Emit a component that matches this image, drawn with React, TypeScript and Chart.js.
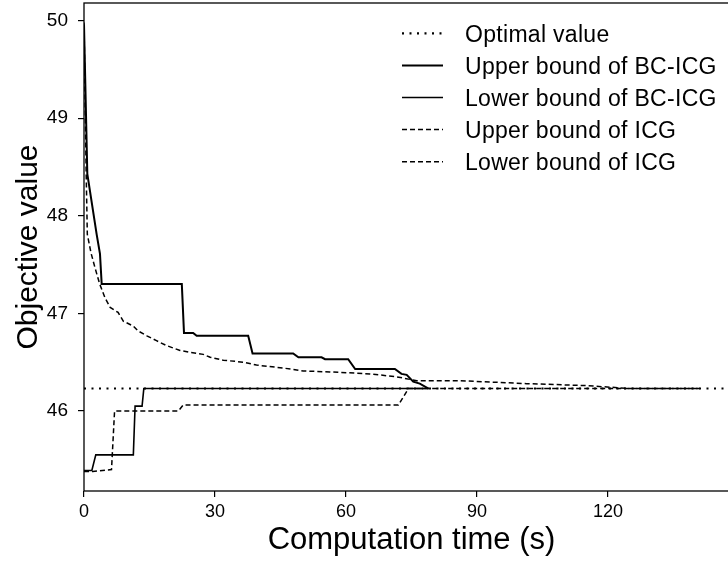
import React, { useEffect, useRef } from "react";
import { Chart, registerables } from "chart.js";

Chart.register(...registerables);

// ---- data (time in s, objective value) ----
const seriesNames = [
  "Optimal value",
  "Upper bound of BC-ICG",
  "Lower bound of BC-ICG",
  "Upper bound of ICG",
  "Lower bound of ICG",
];

const optimalTimes = [0, 150];
const optimalValues = [46.23, 46.23];

const bcUpperTimes = [0, 0.76, 2.9, 3.66, 4.05, 22.4, 22.9, 25.0, 25.8, 37.6, 38.6, 47.9, 49.1, 54.4, 55.2, 60.5, 62.1, 71.2, 72.7, 73.9, 75.4, 76.9, 78.9];
const bcUpperValues = [49.96, 48.43, 47.81, 47.61, 47.30, 47.30, 46.80, 46.80, 46.77, 46.77, 46.59, 46.59, 46.55, 46.55, 46.53, 46.53, 46.43, 46.43, 46.38, 46.37, 46.30, 46.28, 46.23];

const bcLowerTimes = [0, 1.8, 2.7, 11.3, 11.7, 13.3, 13.7, 78.9];
const bcLowerValues = [45.39, 45.39, 45.55, 45.55, 46.05, 46.05, 46.23, 46.23];

const icgUpperTimes = [0, 0.5, 0.76, 1.6, 2.5, 3.6, 4.8, 6.0, 7.8, 9.0, 11.3, 12.4, 14.4, 16.6, 18.9, 22.0, 24.3, 27.3, 28.9, 31.9, 36.5, 39.5, 45.6, 48.7, 50.2, 56.3, 65.5, 71.6, 76.2, 86.1, 101.4, 115, 125, 141];
const icgUpperValues = [49.98, 48.43, 47.81, 47.62, 47.47, 47.30, 47.16, 47.06, 47.01, 46.92, 46.87, 46.82, 46.77, 46.72, 46.67, 46.62, 46.60, 46.58, 46.55, 46.52, 46.50, 46.47, 46.44, 46.42, 46.41, 46.40, 46.38, 46.35, 46.31, 46.31, 46.28, 46.26, 46.23, 46.23];

const icgLowerTimes = [0, 2.0, 6.3, 7.0, 21.6, 22.7, 72.0, 74.3, 141];
const icgLowerValues = [45.38, 45.38, 45.40, 46.0, 46.0, 46.06, 46.06, 46.23, 46.23];

const xTickValues = [0, 30, 60, 90, 120, 150];
const yTickValues = [46, 47, 48, 49, 50];

const FONT = "'Liberation Sans', Arial, Helvetica, sans-serif";

function pts(xs: number[], ys: number[]) {
  return xs.map((x, i) => ({ x, y: ys[i] }));
}

const boxAndLegend = {
  id: "boxAndLegend",
  afterDraw(chart: any) {
    const { ctx, chartArea } = chart;
    ctx.save();
    ctx.strokeStyle = "#000";
    ctx.lineWidth = 1.3;
    ctx.setLineDash([]);
    ctx.strokeRect(chartArea.left, chartArea.top, chartArea.right - chartArea.left, chartArea.bottom - chartArea.top);

    const x0 = 402;
    const x1 = 443;
    const tx = 465;
    const rowY0 = 33.3;
    const rowStep = 32.1;
    ctx.font = `23px ${FONT}`;
    ctx.textBaseline = "alphabetic";
    ctx.textAlign = "left";
    try { (ctx as any).letterSpacing = "0.3px"; } catch (e) {}
    chart.data.datasets.forEach((ds: any, i: number) => {
      const y = rowY0 + rowStep * i;
      ctx.beginPath();
      ctx.strokeStyle = ds.borderColor;
      ctx.lineWidth = ds.borderWidth;
      ctx.setLineDash(ds.borderDash || []);
      ctx.moveTo(x0, y);
      ctx.lineTo(x1, y);
      ctx.stroke();
      ctx.setLineDash([]);
      ctx.fillStyle = "#000";
      ctx.fillText(ds.label, tx, y + 8.3);
    });
    try { (ctx as any).letterSpacing = "0px"; } catch (e) {}
    ctx.restore();
  },
};

export default function App() {
  const ref = useRef<HTMLCanvasElement | null>(null);

  useEffect(() => {
    document.body.style.margin = "0";
    const canvas = ref.current;
    if (!canvas) return;
    const chart = new Chart(canvas, {
      type: "line",
      data: {
        datasets: [
          {
            label: seriesNames[0],
            data: pts(optimalTimes, optimalValues),
            borderColor: "#000",
            borderWidth: 2.2,
            borderDash: [2, 5.5],
          },
          {
            label: seriesNames[1],
            data: pts(bcUpperTimes, bcUpperValues),
            borderColor: "#000",
            borderWidth: 2,
          },
          {
            label: seriesNames[2],
            data: pts(bcLowerTimes, bcLowerValues),
            borderColor: "#000",
            borderWidth: 1.6,
          },
          {
            label: seriesNames[3],
            data: pts(icgUpperTimes, icgUpperValues),
            borderColor: "#000",
            borderWidth: 1.5,
            borderDash: [5, 3],
          },
          {
            label: seriesNames[4],
            data: pts(icgLowerTimes, icgLowerValues),
            borderColor: "#000",
            borderWidth: 1.5,
            borderDash: [5, 3],
          },
        ] as any,
      },
      options: {
        animation: false,
        responsive: false,
        devicePixelRatio: 1,
        parsing: false as any,
        elements: {
          point: { radius: 0, hoverRadius: 0 },
          line: { tension: 0, fill: false },
        },
        layout: { padding: { top: 3, right: 11, left: 0, bottom: 0 } },
        plugins: {
          legend: { display: false },
          tooltip: { enabled: false },
        },
        scales: {
          x: {
            type: "linear",
            min: 0,
            max: 150,
            afterBuildTicks: (scale: any) => {
              scale.ticks = xTickValues.map((v) => ({ value: v }));
            },
            afterFit: (scale: any) => {
              scale.height = 70;
              scale.paddingLeft = 0;
              scale.paddingRight = 0;
            },
            grid: {
              drawOnChartArea: false,
              drawTicks: true,
              tickLength: 6,
              color: "#000",
              lineWidth: 1.2,
            },
            border: { display: false },
            ticks: {
              color: "#000",
              font: { family: FONT, size: 18 },
              padding: 4,
              maxRotation: 0,
              autoSkip: false,
              callback: (v: any) => (v === 150 ? "" : String(v)),
            },
            title: {
              display: true,
              text: "Computation time (s)",
              color: "#000",
              font: { family: FONT, size: 31 },
              padding: { top: 0, bottom: 2 },
            },
          },
          y: {
            type: "linear",
            min: 45.18,
            max: 50.18,
            afterBuildTicks: (scale: any) => {
              scale.ticks = yTickValues.map((v) => ({ value: v }));
            },
            afterFit: (scale: any) => {
              scale.width = 84;
              scale.paddingTop = 0;
              scale.paddingBottom = 0;
            },
            grid: {
              drawOnChartArea: false,
              drawTicks: true,
              tickLength: 6,
              color: "#000",
              lineWidth: 1.2,
            },
            border: { display: false },
            ticks: {
              color: "#000",
              font: { family: FONT, size: 19 },
              padding: 10,
              autoSkip: false,
            },
            title: {
              display: true,
              text: "Objective value",
              color: "#000",
              font: { family: FONT, size: 30 },
              padding: { top: 11, bottom: 0 },
            },
          },
        },
      } as any,
      plugins: [boxAndLegend],
    });
    return () => chart.destroy();
  }, []);

  return (
    <div style={{ width: 728, height: 561, overflow: "hidden", position: "relative" }}>
      <canvas ref={ref} width={750} height={561} style={{ width: 750, height: 561, display: "block" }} />
    </div>
  );
}
